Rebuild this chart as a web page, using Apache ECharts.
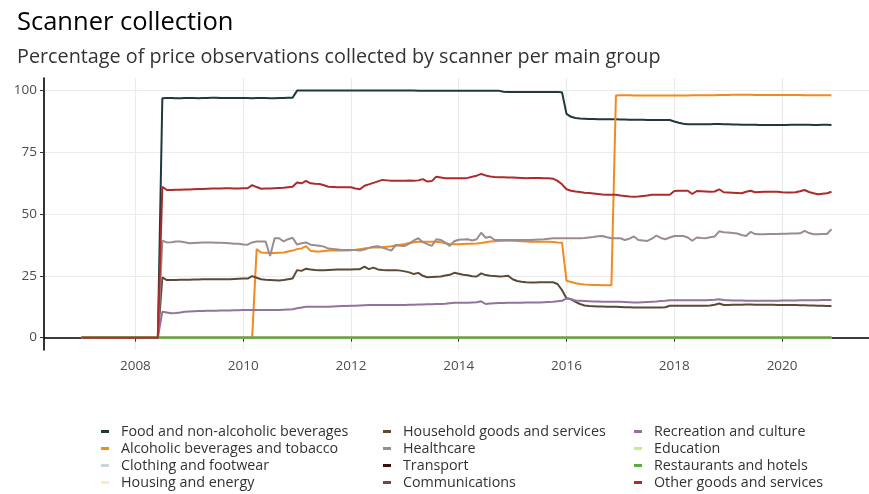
<!DOCTYPE html>
<html>
<head>
<meta charset="utf-8">
<script src="https://cdn.jsdelivr.net/npm/echarts@6/dist/echarts.min.js"></script>
<style>
  html, body { margin: 0; padding: 0; background: #fff; }
  #chart { width: 869px; height: 494px; }
</style>
</head>
<body>
<div id="chart"></div>
<script>
// monthly observations, Jan 2007 .. Dec 2020 (12 values per line = one year)
const startYear = 2007;
const yearTicks = [2008, 2010, 2012, 2014, 2016, 2018, 2020];
const pctTicks = [0, 25, 50, 75, 100];

const food = [
  0, 0, 0, 0, 0, 0, 0, 0, 0, 0, 0, 0,
  0, 0, 0, 0, 0, 0, 96.8, 96.9, 96.9, 96.8, 96.8, 96.9,
  96.9, 96.9, 96.8, 96.9, 96.9, 97.0, 97.0, 96.9, 96.9, 96.9, 96.9, 96.9,
  96.9, 96.9, 96.8, 96.9, 96.9, 96.9, 96.8, 96.8, 96.9, 96.9, 97.0, 97.0,
  99.9, 99.9, 99.9, 99.9, 99.9, 99.9, 99.9, 99.9, 99.9, 99.9, 99.9, 99.9,
  99.9, 99.9, 99.9, 99.9, 99.9, 99.9, 99.9, 99.9, 99.9, 99.9, 99.9, 99.9,
  99.9, 99.9, 99.9, 99.8, 99.8, 99.8, 99.8, 99.8, 99.8, 99.8, 99.8, 99.8,
  99.8, 99.8, 99.8, 99.8, 99.8, 99.8, 99.8, 99.8, 99.8, 99.8, 99.4, 99.3,
  99.3, 99.3, 99.3, 99.3, 99.3, 99.3, 99.3, 99.3, 99.3, 99.3, 99.3, 99.2,
  90.5, 89.3, 88.8, 88.6, 88.5, 88.4, 88.4, 88.3, 88.3, 88.3, 88.3, 88.3,
  88.2, 88.2, 88.1, 88.1, 88.1, 88.1, 88.0, 88.0, 88.0, 88.0, 88.0, 88.0,
  87.4, 86.9, 86.5, 86.3, 86.3, 86.3, 86.3, 86.3, 86.3, 86.4, 86.4, 86.3,
  86.3, 86.2, 86.2, 86.1, 86.1, 86.1, 86.1, 86.0, 86.0, 86.0, 86.0, 86.0,
  86.0, 86.0, 86.1, 86.1, 86.1, 86.1, 86.1, 86.0, 86.0, 86.1, 86.1, 86.0
];

const alcohol = [
  0, 0, 0, 0, 0, 0, 0, 0, 0, 0, 0, 0,
  0, 0, 0, 0, 0, 0, 0, 0, 0, 0, 0, 0,
  0, 0, 0, 0, 0, 0, 0, 0, 0, 0, 0, 0,
  0, 0, 0, 35.8, 34.4, 34.3, 34.2, 34.2, 34.3, 34.4, 34.8, 35.2,
  35.8, 36.1, 37.0, 35.1, 34.8, 34.8, 35.0, 35.2, 35.2, 35.2, 35.2, 35.2,
  35.3, 35.5, 35.8, 36.1, 36.3, 36.5, 36.5, 36.6, 36.8, 37.0, 37.3, 37.6,
  37.9, 38.3, 38.6, 38.8, 38.8, 38.8, 38.8, 38.8, 38.6, 38.2, 37.9, 37.8,
  37.8, 37.9, 38.0, 38.0, 38.1, 38.3, 38.6, 38.9, 39.0, 39.1, 39.2, 39.2,
  39.2, 39.1, 39.0, 38.9, 38.8, 38.8, 38.8, 38.8, 38.8, 38.7, 38.5, 38.4,
  23.0, 22.5, 22.0, 21.7, 21.5, 21.4, 21.3, 21.3, 21.2, 21.2, 21.2, 97.9,
  98.0, 98.0, 98.0, 97.9, 97.9, 97.9, 97.9, 97.9, 97.9, 97.9, 97.9, 97.9,
  97.9, 97.9, 97.9, 97.9, 98.0, 98.0, 98.0, 98.0, 98.0, 98.0, 98.1, 98.1,
  98.1, 98.2, 98.2, 98.2, 98.2, 98.2, 98.1, 98.1, 98.1, 98.1, 98.1, 98.1,
  98.1, 98.1, 98.1, 98.1, 98.1, 98.0, 98.0, 98.0, 98.0, 98.0, 98.0, 98.0
];

const household = [
  0, 0, 0, 0, 0, 0, 0, 0, 0, 0, 0, 0,
  0, 0, 0, 0, 0, 0, 24.4, 23.3, 23.3, 23.3, 23.4, 23.4,
  23.4, 23.5, 23.5, 23.6, 23.6, 23.6, 23.6, 23.6, 23.6, 23.6, 23.7, 23.8,
  23.9, 23.9, 24.9, 24.2, 23.6, 23.4, 23.3, 23.2, 23.1, 23.3, 23.6, 23.9,
  27.3, 27.0, 27.9, 27.6, 27.4, 27.3, 27.3, 27.4, 27.5, 27.6, 27.6, 27.6,
  27.6, 27.7, 27.7, 28.7, 27.7, 28.3, 27.6, 27.4, 27.3, 27.3, 27.3, 27.1,
  26.8, 26.4, 25.7, 26.2, 25.0, 24.4, 24.5, 24.6, 24.7, 25.1, 25.4, 26.2,
  25.8, 25.4, 25.2, 24.8, 24.7, 26.0, 25.3, 25.0, 24.9, 24.7, 24.8, 25.0,
  23.6, 22.9, 22.6, 22.4, 22.3, 22.3, 22.4, 22.4, 22.4, 22.4, 21.7, 19.2,
  15.9, 15.5, 14.5, 13.6, 13.0, 12.8, 12.7, 12.6, 12.6, 12.5, 12.5, 12.5,
  12.4, 12.3, 12.3, 12.2, 12.2, 12.2, 12.2, 12.2, 12.2, 12.2, 12.3, 12.9,
  12.9, 12.9, 12.9, 12.9, 12.9, 12.9, 12.9, 12.9, 13.0, 13.3, 13.8, 13.2,
  13.2, 13.3, 13.3, 13.3, 13.4, 13.4, 13.3, 13.3, 13.3, 13.3, 13.3, 13.2,
  13.2, 13.2, 13.2, 13.2, 13.1, 13.1, 13.0, 13.0, 12.9, 12.9, 12.8, 12.8
];

const healthcare = [
  0, 0, 0, 0, 0, 0, 0, 0, 0, 0, 0, 0,
  0, 0, 0, 0, 0, 0, 39.2, 38.5, 38.6, 38.9, 38.9, 38.6,
  38.2, 38.3, 38.4, 38.5, 38.5, 38.5, 38.4, 38.4, 38.3, 38.2, 38.0, 38.0,
  37.7, 37.6, 38.5, 38.9, 38.9, 38.9, 33.0, 40.2, 40.2, 38.9, 39.8, 40.4,
  37.6, 38.2, 38.5, 37.6, 37.4, 37.2, 36.8, 36.0, 35.8, 35.6, 35.4, 35.4,
  35.4, 35.4, 35.2, 35.6, 36.3, 36.8, 37.0, 36.4, 35.8, 35.2, 37.5, 37.2,
  37.1, 38.0, 39.3, 40.2, 38.6, 37.8, 37.1, 39.8, 39.5, 38.4, 37.1, 39.0,
  39.6, 39.7, 39.8, 39.3, 39.8, 42.4, 40.4, 40.8, 39.5, 39.5, 39.5, 39.5,
  39.5, 39.5, 39.5, 39.5, 39.5, 39.6, 39.7, 39.8, 40.0, 40.2, 40.2, 40.2,
  40.2, 40.2, 40.2, 40.2, 40.3, 40.5, 40.7, 41.0, 41.1, 40.6, 40.2, 40.2,
  40.2, 39.5, 40.0, 40.9, 39.5, 39.3, 39.1, 40.0, 41.3, 40.3, 39.8, 40.5,
  41.1, 41.1, 41.1, 40.5, 39.2, 40.5, 40.3, 40.2, 40.6, 40.9, 43.0, 42.6,
  42.5, 42.3, 42.1, 41.5, 41.1, 42.8, 41.9, 41.8, 41.8, 41.9, 41.9, 41.9,
  42.0, 42.0, 42.1, 42.1, 42.2, 43.2, 42.3, 41.8, 41.8, 41.9, 41.9, 43.9
];

const recreation = [
  0, 0, 0, 0, 0, 0, 0, 0, 0, 0, 0, 0,
  0, 0, 0, 0, 0, 0, 10.5, 10.2, 9.9, 10.0, 10.2, 10.5,
  10.6, 10.7, 10.8, 10.8, 10.9, 10.9, 10.9, 11.0, 11.0, 11.0, 11.1, 11.1,
  11.2, 11.2, 11.2, 11.2, 11.2, 11.2, 11.2, 11.2, 11.2, 11.3, 11.4, 11.5,
  11.9, 12.2, 12.5, 12.5, 12.5, 12.5, 12.5, 12.5, 12.6, 12.7, 12.8, 12.8,
  12.9, 12.9, 13.0, 13.1, 13.2, 13.2, 13.2, 13.2, 13.2, 13.2, 13.2, 13.2,
  13.2, 13.3, 13.3, 13.4, 13.4, 13.5, 13.5, 13.6, 13.6, 13.7, 13.9, 14.1,
  14.1, 14.1, 14.1, 14.2, 14.3, 14.7, 13.6, 13.8, 13.9, 14.0, 14.0, 14.1,
  14.1, 14.1, 14.1, 14.2, 14.2, 14.2, 14.2, 14.3, 14.4, 14.5, 14.7, 14.9,
  15.9, 15.5, 15.0, 14.9, 14.8, 14.7, 14.6, 14.6, 14.5, 14.5, 14.5, 14.5,
  14.5, 14.4, 14.3, 14.2, 14.2, 14.3, 14.4, 14.5, 14.6, 14.8, 14.9, 15.1,
  15.1, 15.1, 15.1, 15.1, 15.1, 15.1, 15.1, 15.1, 15.2, 15.3, 15.5, 15.2,
  15.1, 15.0, 15.0, 15.0, 14.9, 14.9, 14.9, 14.9, 14.9, 14.9, 14.9, 14.9,
  15.0, 15.0, 15.0, 15.0, 15.1, 15.1, 15.1, 15.1, 15.1, 15.2, 15.2, 15.2
];

const otherGoods = [
  0, 0, 0, 0, 0, 0, 0, 0, 0, 0, 0, 0,
  0, 0, 0, 0, 0, 0, 61.0, 59.7, 59.7, 59.8, 59.8, 59.9,
  59.9, 60.0, 60.1, 60.1, 60.2, 60.3, 60.3, 60.3, 60.4, 60.4, 60.3, 60.3,
  60.4, 60.4, 61.7, 60.9, 60.2, 60.3, 60.3, 60.4, 60.5, 60.6, 60.8, 61.0,
  62.7, 62.4, 63.4, 62.4, 62.2, 62.1, 61.6, 61.0, 60.9, 60.8, 60.8, 60.8,
  60.8, 60.3, 60.0, 61.4, 62.0, 62.6, 63.2, 63.8, 63.6, 63.4, 63.4, 63.4,
  63.4, 63.5, 63.4, 63.6, 64.1, 63.1, 63.3, 65.1, 64.8, 64.5, 64.5, 64.5,
  64.5, 64.5, 64.6, 65.1, 65.5, 66.2, 65.6, 65.2, 65.0, 64.9, 64.9, 64.8,
  64.8, 64.7, 64.6, 64.5, 64.6, 64.6, 64.6, 64.5, 64.5, 64.3, 63.4, 62.0,
  60.0, 59.4, 59.1, 58.9, 58.6, 58.5, 58.3, 58.1, 57.9, 57.8, 57.8, 57.8,
  57.5, 57.3, 57.1, 57.0, 57.1, 57.3, 57.5, 57.8, 57.8, 57.8, 57.8, 57.8,
  59.3, 59.4, 59.4, 59.4, 58.1, 59.3, 59.2, 59.1, 59.0, 59.1, 60.0, 58.8,
  58.7, 58.6, 58.5, 58.4, 59.0, 59.4, 58.8, 58.9, 59.0, 59.0, 59.0, 59.0,
  58.8, 58.7, 58.7, 58.8, 59.2, 59.7, 58.9, 58.4, 58.0, 58.2, 58.4, 59.0
];

// groups with no scanner data at all
const noScanner = [
  0, 0, 0, 0, 0, 0, 0, 0, 0, 0, 0, 0,
  0, 0, 0, 0, 0, 0, 0, 0, 0, 0, 0, 0,
  0, 0, 0, 0, 0, 0, 0, 0, 0, 0, 0, 0,
  0, 0, 0, 0, 0, 0, 0, 0, 0, 0, 0, 0,
  0, 0, 0, 0, 0, 0, 0, 0, 0, 0, 0, 0,
  0, 0, 0, 0, 0, 0, 0, 0, 0, 0, 0, 0,
  0, 0, 0, 0, 0, 0, 0, 0, 0, 0, 0, 0,
  0, 0, 0, 0, 0, 0, 0, 0, 0, 0, 0, 0,
  0, 0, 0, 0, 0, 0, 0, 0, 0, 0, 0, 0,
  0, 0, 0, 0, 0, 0, 0, 0, 0, 0, 0, 0,
  0, 0, 0, 0, 0, 0, 0, 0, 0, 0, 0, 0,
  0, 0, 0, 0, 0, 0, 0, 0, 0, 0, 0, 0,
  0, 0, 0, 0, 0, 0, 0, 0, 0, 0, 0, 0,
  0, 0, 0, 0, 0, 0, 0, 0, 0, 0, 0, 0
];

const groupNames = [
  "Food and non-alcoholic beverages", "Alcoholic beverages and tobacco",
  "Clothing and footwear", "Housing and energy",
  "Household goods and services", "Healthcare", "Transport", "Communications",
  "Recreation and culture", "Education", "Restaurants and hotels",
  "Other goods and services"
];
const groupValues = [
  food, alcohol, noScanner, noScanner,
  household, healthcare, noScanner, noScanner,
  recreation, noScanner, noScanner, otherGoods
];
const groupColors = [
  "#1e3a3e", "#f28a1e", "#c6d7dc", "#fcebc8",
  "#5c4a37", "#9b8c90", "#3a0f10", "#7b4545",
  "#94729b", "#b4f58e", "#5daa3f", "#ad2b2b"
];

const FONT = "Open Sans";

function toPairs(values) {
  return values.map((v, i) => [startYear + i / 12, v]);
}

const series = groupNames.map((name, k) => ({
  name: name,
  type: "line",
  data: toPairs(groupValues[k]),
  showSymbol: false,
  symbol: "none",
  lineStyle: { width: 2, color: groupColors[k] },
  itemStyle: { color: groupColors[k] },
  z: 2 + k
}));

function legendColumn(names, left) {
  return {
    left: left,
    top: 423,
    orient: "vertical",
    data: names,
    icon: "rect",
    itemWidth: 8,
    itemHeight: 3,
    itemGap: 0,
    padding: 0,
    selectedMode: false,
    textStyle: {
      fontFamily: FONT,
      fontSize: 14.3,
      lineHeight: 17,
      color: "#333",
      padding: [0, 0, 0, 7]
    }
  };
}

const option = {
  animation: false,
  backgroundColor: "#fff",
  title: [
    {
      text: "Scanner collection",
      left: 17,
      top: 10,
      padding: 0,
      textStyle: { fontFamily: FONT, fontSize: 25.5, fontWeight: "normal", color: "#000" }
    },
    {
      text: "Percentage of price observations collected by scanner per main group",
      left: 17,
      top: 47,
      padding: 0,
      textStyle: { fontFamily: FONT, fontSize: 19.8, fontWeight: "normal", color: "#333" }
    }
  ],
  legend: [
    legendColumn(groupNames.slice(0, 4), 101),
    legendColumn(groupNames.slice(4, 8), 383),
    legendColumn(groupNames.slice(8, 12), 634)
  ],
  grid: { left: 44, right: -12, top: 78, bottom: 144, containLabel: false },
  xAxis: {
    type: "value",
    min: 2006.304,
    max: 2021.613,
    axisLine: { show: true, lineStyle: { color: "#000", width: 1.6 } },
    axisTick: { show: true, length: 4, customValues: yearTicks, lineStyle: { color: "#333", width: 1 } },
    axisLabel: {
      customValues: yearTicks,
      margin: 9,
      fontFamily: FONT,
      fontSize: 13.5,
      color: "#4d4d4d",
      formatter: v => String(Math.round(v))
    },
    splitLine: { show: true, lineStyle: { color: "#ebebeb", width: 1.2 } }
  },
  yAxis: {
    type: "value",
    min: -5,
    max: 105,
    axisLine: { show: true, lineStyle: { color: "#000", width: 1.6 } },
    axisTick: { show: true, length: 4, customValues: pctTicks, lineStyle: { color: "#333", width: 1 } },
    axisLabel: {
      customValues: pctTicks,
      margin: 7,
      fontFamily: FONT,
      fontSize: 13.5,
      color: "#4d4d4d"
    },
    splitLine: { show: true, lineStyle: { color: "#ebebeb", width: 1.2 } }
  },
  series: series
};

const chart = echarts.init(document.getElementById("chart"));
chart.setOption(option);
</script>
</body>
</html>
